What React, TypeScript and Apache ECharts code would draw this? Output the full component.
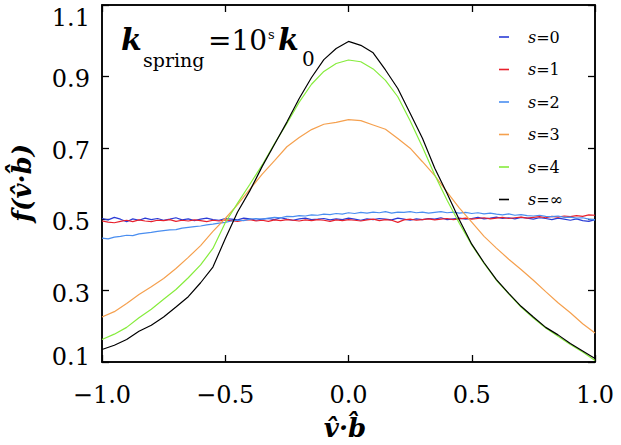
import React, { useEffect, useRef } from "react";
import * as echarts from "echarts";

const FONT = "DejaVu Serif";

// x positions (v̂·b̂)
const X41 = [
  -1.0, -0.95, -0.9, -0.85, -0.8, -0.75, -0.7, -0.65, -0.6, -0.55,
  -0.5, -0.45, -0.4, -0.35, -0.3, -0.25, -0.2, -0.15, -0.1, -0.05,
  0.0, 0.05, 0.1, 0.15, 0.2, 0.25, 0.3, 0.35, 0.4, 0.45,
  0.5, 0.55, 0.6, 0.65, 0.7, 0.75, 0.8, 0.85, 0.9, 0.95, 1.0,
];
const X81 = [
  -1.0, -0.975, -0.95, -0.925, -0.9, -0.875, -0.85, -0.825, -0.8, -0.775,
  -0.75, -0.725, -0.7, -0.675, -0.65, -0.625, -0.6, -0.575, -0.55, -0.525,
  -0.5, -0.475, -0.45, -0.425, -0.4, -0.375, -0.35, -0.325, -0.3, -0.275,
  -0.25, -0.225, -0.2, -0.175, -0.15, -0.125, -0.1, -0.075, -0.05, -0.025,
  0.0, 0.025, 0.05, 0.075, 0.1, 0.125, 0.15, 0.175, 0.2, 0.225,
  0.25, 0.275, 0.3, 0.325, 0.35, 0.375, 0.4, 0.425, 0.45, 0.475,
  0.5, 0.525, 0.55, 0.575, 0.6, 0.625, 0.65, 0.675, 0.7, 0.725,
  0.75, 0.775, 0.8, 0.825, 0.85, 0.875, 0.9, 0.925, 0.95, 0.975, 1.0,
];

// s = 0 (81 points)
const S0 = [
  0.502, 0.498, 0.505, 0.5, 0.493, 0.501, 0.497, 0.503, 0.499, 0.502,
  0.497, 0.5, 0.504, 0.498, 0.501, 0.496, 0.5, 0.503, 0.499, 0.497,
  0.502, 0.5, 0.498, 0.503, 0.501, 0.497, 0.5, 0.502, 0.499, 0.504,
  0.5, 0.497, 0.501, 0.503, 0.499, 0.5, 0.502, 0.498, 0.501, 0.499,
  0.503, 0.5, 0.497, 0.501, 0.499, 0.502, 0.5, 0.498, 0.503, 0.5,
  0.497, 0.501, 0.499, 0.502, 0.5, 0.504, 0.499, 0.501, 0.503, 0.5,
  0.502, 0.505, 0.501, 0.503, 0.506, 0.502, 0.504, 0.501, 0.505, 0.503,
  0.5, 0.504, 0.502, 0.499, 0.503, 0.5, 0.497, 0.501, 0.496, 0.494, 0.499,
];
// s = 1 (81 points)
const S1 = [
  0.495, 0.492, 0.49, 0.494, 0.497, 0.493, 0.498, 0.495, 0.493, 0.497,
  0.496, 0.499, 0.494, 0.497, 0.495, 0.498, 0.496, 0.493, 0.497, 0.495,
  0.498, 0.496, 0.494, 0.497, 0.499, 0.495, 0.497, 0.494, 0.498, 0.496,
  0.499, 0.497, 0.495, 0.498, 0.496, 0.499, 0.497, 0.494, 0.498, 0.496,
  0.499, 0.497, 0.495, 0.498, 0.5, 0.496, 0.499, 0.497, 0.491, 0.498,
  0.5, 0.497, 0.499, 0.501, 0.498, 0.5, 0.502, 0.499, 0.501, 0.503,
  0.5, 0.502, 0.504, 0.501, 0.503, 0.505, 0.502, 0.504, 0.506, 0.503,
  0.505, 0.507, 0.504, 0.508, 0.506, 0.509, 0.507, 0.51, 0.508, 0.512, 0.511,
];
// s = 2 (81 points)
const S2 = [
  0.447, 0.445, 0.45, 0.452, 0.455, 0.454, 0.459, 0.461, 0.463, 0.466,
  0.468, 0.47, 0.471, 0.475, 0.477, 0.479, 0.481, 0.484, 0.486, 0.489,
  0.491, 0.495, 0.497, 0.496, 0.5, 0.502, 0.5, 0.503, 0.505, 0.504,
  0.508, 0.507, 0.51, 0.509, 0.512, 0.511, 0.514, 0.513, 0.516, 0.514,
  0.518, 0.516, 0.519, 0.517, 0.52, 0.518, 0.521, 0.517, 0.52, 0.519,
  0.521, 0.518, 0.52, 0.517, 0.519, 0.521, 0.518, 0.52, 0.517, 0.519,
  0.516, 0.518, 0.515, 0.517, 0.514, 0.512, 0.515, 0.511, 0.513, 0.51,
  0.509, 0.511, 0.508, 0.507, 0.509, 0.505, 0.506, 0.503, 0.504, 0.5, 0.498,
];
// s = 3 (41 points)
const S3 = [
  0.226, 0.241, 0.264, 0.289, 0.311, 0.334, 0.362, 0.393, 0.426, 0.466,
  0.502, 0.541, 0.584, 0.626, 0.664, 0.703, 0.729, 0.751, 0.766, 0.771,
  0.779, 0.776, 0.764, 0.752, 0.726, 0.699, 0.661, 0.622, 0.576, 0.531,
  0.492, 0.452, 0.419, 0.388, 0.359, 0.329, 0.297, 0.266, 0.238, 0.207, 0.181,
];
// s = 4 (41 points)
const S4 = [
  0.163, 0.178, 0.197, 0.224, 0.248, 0.276, 0.303, 0.336, 0.372, 0.418,
  0.49, 0.545, 0.598, 0.652, 0.712, 0.768, 0.828, 0.878, 0.914, 0.936,
  0.946, 0.941, 0.921, 0.889, 0.843, 0.776, 0.702, 0.624, 0.553, 0.488,
  0.428, 0.376, 0.329, 0.291, 0.254, 0.223, 0.195, 0.172, 0.149, 0.128, 0.104,
];
// s = ∞ (41 points)
const SINF = [
  0.135, 0.147, 0.163, 0.186, 0.203, 0.226, 0.254, 0.283, 0.322, 0.366,
  0.445, 0.52, 0.58, 0.648, 0.71, 0.772, 0.838, 0.897, 0.947, 0.978,
  0.998, 0.987, 0.966, 0.918, 0.866, 0.797, 0.727, 0.643, 0.572, 0.498,
  0.43, 0.378, 0.331, 0.292, 0.256, 0.226, 0.197, 0.176, 0.152, 0.131, 0.11,
];

const SERIES_NAMES = ["s=0", "s=1", "s=2", "s=3", "s=4", "s=\u221e"];
const SERIES_COLORS = ["#2a3bd6", "#e8202c", "#4a8ef0", "#f5a04e", "#86ec3c", "#000000"];
const X_TICKS = { min: -1, max: 1, interval: 0.5 };
const Y_TICKS = { min: 0.1, max: 1.1, interval: 0.2 };

export default function App() {
  const ref = useRef<HTMLDivElement>(null);
  useEffect(() => {
    const chart = echarts.init(ref.current as HTMLDivElement, null, { renderer: "svg" });
    const xs = [X81, X81, X81, X41, X41, X41];
    const ys = [S0, S1, S2, S3, S4, SINF];
    const fmtX = (v: number) => {
      const s = Math.abs(v).toFixed(1);
      return v < -1e-9 ? "\u2212" + s : s;
    };
    const fmtY = (v: number) => {
      const s = v.toFixed(1);
      if (Math.abs(v - 1.1) < 1e-6) return `{hi|${s}}`;
      if (Math.abs(v - 0.1) < 1e-6) return `{lo|${s}}`;
      return `{n|${s}}`;
    };
    const lbl = () => ({ fontFamily: FONT, fontSize: 24, color: "#000" });
    const axisLine = () => ({ show: true, onZero: false, lineStyle: { color: "#000", width: 1.5 } });
    const tick = () => ({ show: true, inside: true, length: 7, lineStyle: { color: "#000", width: 1.3 } });
    const option: any = {
      animation: false,
      backgroundColor: "#fff",
      grid: {
        left: 102, right: 26, top: 5, bottom: 83,
        show: true, borderColor: "#000", borderWidth: 1.5, backgroundColor: "transparent",
      },
      xAxis: [
        {
          type: "value", ...X_TICKS, position: "bottom",
          axisLine: axisLine(), axisTick: tick(), splitLine: { show: false },
          axisLabel: { ...lbl(), margin: 21, formatter: fmtX },
        },
        {
          type: "value", ...X_TICKS, position: "top",
          axisLine: axisLine(), axisTick: tick(), splitLine: { show: false }, axisLabel: { show: false },
        },
      ],
      yAxis: [
        {
          type: "value", ...Y_TICKS, position: "left",
          axisLine: axisLine(), axisTick: tick(), splitLine: { show: false },
          axisLabel: {
            ...lbl(), margin: 12, formatter: fmtY,
            rich: {
              hi: { ...lbl(), padding: [26, 0, 0, 0] },
              lo: { ...lbl(), padding: [0, 0, 10, 0] },
              n: { ...lbl(), padding: [6, 0, 0, 0] },
            },
          },
        },
        {
          type: "value", ...Y_TICKS, position: "right",
          axisLine: axisLine(), axisTick: tick(), splitLine: { show: false }, axisLabel: { show: false },
        },
      ],
      legend: {
        orient: "vertical", left: 494, top: 22,
        itemWidth: 10, itemHeight: 1.6, itemGap: 12.5, icon: "rect",
        data: SERIES_NAMES,
        formatter: (name: string) => `{i|s}{r|${name.slice(1)}}`,
        textStyle: {
          fontFamily: FONT, fontSize: 16, color: "#000", lineHeight: 20,
          padding: [0, 0, 0, 14],
          rich: {
            i: { fontFamily: FONT, fontSize: 16, fontStyle: "italic", color: "#000" },
            r: { fontFamily: FONT, fontSize: 16, color: "#000" },
          },
        },
      },
      series: SERIES_NAMES.map((name, k) => ({
        type: "line",
        name,
        xAxisIndex: 0,
        yAxisIndex: 0,
        data: xs[k].map((x, i) => [x, ys[k][i]]),
        showSymbol: false,
        symbol: "none",
        color: SERIES_COLORS[k],
        itemStyle: { color: SERIES_COLORS[k] },
        lineStyle: { color: SERIES_COLORS[k], width: 1.2 },
        silent: true,
      })),
      graphic: [
        { type: "text", x: 121, y: 39.5, style: { text: "k", font: `italic bold 30px "${FONT}"`, fill: "#000", align: "left", verticalAlign: "middle", textAlign: "left", textVerticalAlign: "middle" } },
        { type: "text", x: 143, y: 60, style: { text: "spring", font: `19px "${FONT}"`, fill: "#000", align: "left", verticalAlign: "middle", textAlign: "left", textVerticalAlign: "middle" } },
        { type: "text", x: 208, y: 40, style: { text: "=10", font: `28px "${FONT}"`, fill: "#000", align: "left", verticalAlign: "middle", textAlign: "left", textVerticalAlign: "middle" } },
        { type: "text", x: 268, y: 34, style: { text: "s", font: `13px "${FONT}"`, fill: "#000", align: "left", verticalAlign: "middle", textAlign: "left", textVerticalAlign: "middle" } },
        { type: "text", x: 278, y: 39.5, style: { text: "k", font: `italic bold 30px "${FONT}"`, fill: "#000", align: "left", verticalAlign: "middle", textAlign: "left", textVerticalAlign: "middle" } },
        { type: "text", x: 302, y: 59, style: { text: "0", font: `20px "${FONT}"`, fill: "#000", align: "left", verticalAlign: "middle", textAlign: "left", textVerticalAlign: "middle" } },
        { type: "text", x: 345, y: 428, style: { text: "v\u0302\u00b7b\u0302", font: `italic bold 26px "${FONT}"`, fill: "#000", align: "center", verticalAlign: "middle", textAlign: "center", textVerticalAlign: "middle" } },
        { type: "text", x: 22, y: 183, rotation: Math.PI / 2, style: { text: "f(v\u0302\u00b7b\u0302)", font: `italic bold 26px "${FONT}"`, fill: "#000", align: "center", verticalAlign: "middle", textAlign: "center", textVerticalAlign: "middle" } },
      ],
    };
    chart.setOption(option);
    return () => chart.dispose();
  }, []);
  return (
    <div
      ref={ref}
      style={{ position: "absolute", left: 0, top: 0, width: 621, height: 445, background: "#fff" }}
    />
  );
}
